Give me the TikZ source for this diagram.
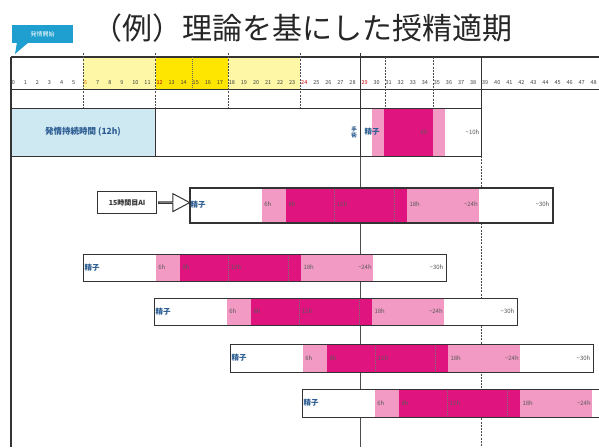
\documentclass[tikz,border=0pt]{standalone}
\usepackage{fontspec}
\newfontfamily\jp{Noto Sans CJK JP}
\usetikzlibrary{shapes.arrows}
\definecolor{mag}{HTML}{E0147F}
\definecolor{lpink}{HTML}{F29AC4}
\definecolor{lblue}{HTML}{CFE9F3}
\definecolor{ylight}{HTML}{FDF7A6}
\definecolor{ybright}{HTML}{FFE600}
\definecolor{calloutblue}{HTML}{1E9FCF}
\definecolor{jblue}{HTML}{2C5D92}
\definecolor{framec}{HTML}{333333}
\tikzset{
  barframe/.style={draw=framec, line width=1.3pt, inner sep=0pt, anchor=north west},
  seglbl/.style={inner sep=0.5pt, text=black!65, font=\jp\fontsize{6}{7}\selectfont},
  splbl/.style={inner sep=0.5pt, anchor=west, text=jblue, font=\jp\bfseries\fontsize{7.5}{8}\selectfont},
  numlbl/.style={inner sep=0pt, anchor=west, font=\jp\fontsize{5.5}{6}\selectfont},
  gridd/.style={black!70, line width=0.5pt, dash pattern=on 2pt off 1.2pt},
  gridthick/.style={framec, line width=1.3pt},
}
\newcommand\fertbar[6]{% #1 name, #2 x start, #3 y top, #4 y bottom, #5 frame width, #6 show 30h label (1/0)
  \def\u{12.1}
  \fill[white] (#2,#3) rectangle ({#2+6*\u},#4);
  \fill[lpink] ({#2+6*\u},#3) rectangle ({#2+8*\u},#4);
  \fill[mag] ({#2+8*\u},#3) rectangle ({#2+18*\u},#4);
  \fill[lpink] ({#2+18*\u},#3) rectangle ({#2+24*\u},#4);
  \fill[white] ({#2+24*\u},#3) rectangle ({#2+30*\u},#4);
  \draw[black!55, line width=0.5pt, dash pattern=on 1pt off 1pt] ({#2+12*\u},#3) -- ({#2+12*\u},#4);
  \draw[black!55, line width=0.5pt, dash pattern=on 1pt off 1pt] ({#2+17*\u},#3) -- ({#2+17*\u},#4);
  \node[barframe, line width=#5, minimum width={30*\u}, minimum height={#4-#3}] (#1) at (#2,#3) {};
  \node[splbl] (#1sp) at ({#2+1},{(#3+#4)/2}) {精子};
  \node[seglbl, anchor=west] (#1l6) at ({#2+6*\u+2},{(#3+#4)/2}) {6h};
  \node[seglbl, anchor=west] (#1l8) at ({#2+8*\u+2},{(#3+#4)/2}) {8h};
  \node[seglbl, anchor=west] (#1l12) at ({#2+12*\u+2},{(#3+#4)/2}) {12h};
  \node[seglbl, anchor=west] (#1l18) at ({#2+18*\u+2},{(#3+#4)/2}) {18h};
  \node[seglbl, anchor=east] (#1l24) at ({#2+24*\u-1},{(#3+#4)/2}) {\textasciitilde24h};
  \ifnum#6=1\relax
  \node[seglbl, anchor=east] (#1l30) at ({#2+30*\u-2},{(#3+#4)/2}) {\textasciitilde30h};
  \fi
}
\begin{document}
\begin{tikzpicture}[x=1pt,y=-1pt]
\useasboundingbox (0,0) rectangle (599,447);
\fill[white] (0,0) rectangle (599,447);

% title
\node[inner sep=0pt, text=black!85, font=\jp\fontsize{30}{32}\selectfont] (title) at (302,28) {（例）理論を基にした授精適期};

% callout
\fill[calloutblue] (17,42) -- (29,42) -- (15,54) -- cycle;
\node[fill=calloutblue, text=white, minimum width=61pt, minimum height=18pt, anchor=north west, inner sep=0pt, font=\jp\fontsize{6}{7}\selectfont] (start) at (12,25) {発情開始};

% header fills
\fill[ylight] ({11+12.06*6},57) rectangle ({11+12.06*12},89);
\fill[ybright] ({11+12.06*12},57) rectangle ({11+12.06*18},89);
\fill[ylight] ({11+12.06*18},57) rectangle ({11+12.06*24},89);

% row 1 fills
\fill[lblue] (11,108) rectangle ({11+12.06*12},156);
\fill[lpink] (372,108) rectangle (384,156);
\fill[mag] (384,108) rectangle (433,156);
\fill[lpink] (433,108) rectangle (445,156);

% header lines
\draw[framec, line width=1.3pt] (11,57) -- (599,57);
\draw[framec, line width=0.8pt] (11,89) -- (599,89);
\draw[framec, line width=1.3pt] (11,57) -- (11,447);

% vertical grid lines
\foreach \h in {6,12,18,24} {
  \draw[gridd] ({11+12.06*\h},53) -- ({11+12.06*\h},108);
}
\draw[black!60, line width=0.4pt, dash pattern=on 1pt off 1pt] ({11+12.06*15},57) -- ({11+12.06*15},89);
\foreach \h in {31,35} {
  \draw[gridd] ({11+12.06*\h},57) -- ({11+12.06*\h},108);
}
\draw[gridthick] ({11+12.06*29},53) -- ({11+12.06*29},156);
\draw[gridthick] ({11+12.06*39},57) -- ({11+12.06*39},156);
\draw[black!70, line width=0.6pt] ({11+12.06*29},156) -- ({11+12.06*29},447);
\draw[gridd] ({11+12.06*39},156) -- ({11+12.06*39},447);

% hour numbers
\foreach \h in {0,...,48} {
  \ifnum\h=6\relax \def\nc{orange!90!black}%
  \else\ifnum\h=12\relax \def\nc{red!75!black}%
  \else\ifnum\h=24\relax \def\nc{red!80!black}%
  \else\ifnum\h=29\relax \def\nc{red!80!black}%
  \else \def\nc{black!75}\fi\fi\fi\fi
  \node[numlbl, text=\nc] (n\h) at ({11.6+12.06*\h},83) {\h};
}

% row 1
\node[barframe, minimum width=470pt, minimum height=48pt] (row1) at (11,108) {};
\draw[framec, line width=0.6pt] ({11+12.06*12},108) -- ({11+12.06*12},156);
\node[inner sep=0pt, text=jblue, font=\jp\bfseries\fontsize{8.5}{9}\selectfont] (estrus) at (83,132) {発情持続時間 (12h)};
\node[inner sep=0pt, align=center, text=jblue, font=\jp\bfseries\fontsize{5.5}{6}\selectfont] (surg) at (354,132) {手\\術};
\node[splbl] (r1sp) at (364,132) {精子};
\node[seglbl, anchor=west] (r1l6) at (420,132) {6h};
\node[seglbl, anchor=east] (r1l10) at (480,132) {\textasciitilde10h};

% bars
\fertbar{bartwo}{189}{187}{222}{1.8pt}{1}
\fertbar{barthree}{83}{254}{281}{1.3pt}{1}
\fertbar{barfour}{154}{298}{325}{1.3pt}{1}
\fertbar{barfive}{230}{344}{372}{1.3pt}{1}
\fertbar{barsix}{302}{389}{417}{1.3pt}{0}

% AI label and arrow
\node[draw=framec, line width=1.2pt, minimum width=59pt, minimum height=22pt, inner sep=0pt, anchor=north west, font=\jp\bfseries\fontsize{7}{8}\selectfont, text=black!80] (ai) at (97,191) {15時間目AI};
\node[single arrow, draw=framec, fill=white, line width=1pt, minimum height=31pt, minimum width=18pt, inner sep=0pt, single arrow head extend=5.5pt, single arrow tip angle=56, anchor=tail] (aiarrow) at ([xshift=1pt]ai.east) {};
\end{tikzpicture}
\end{document}
